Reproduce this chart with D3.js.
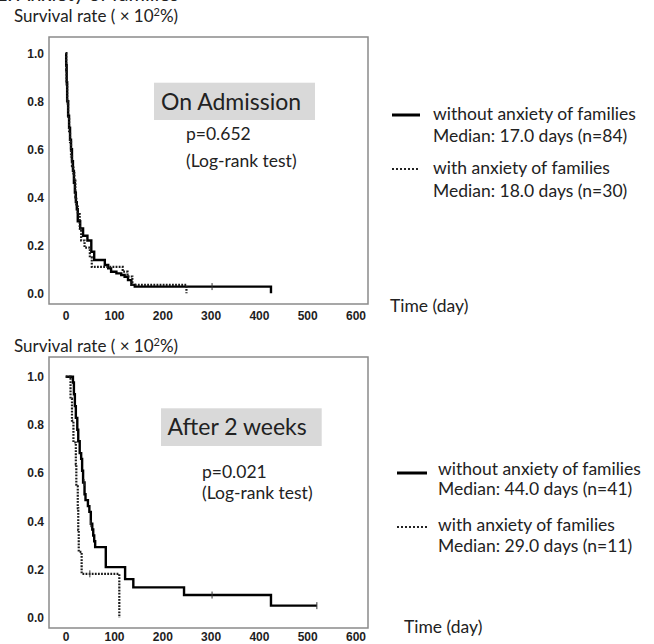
<!DOCTYPE html>
<html><head><meta charset="utf-8">
<script src="https://cdn.jsdelivr.net/npm/d3@7"></script>
<style>
html,body{margin:0;padding:0;background:#fff;}
svg{display:block;}
.lab{font-family:Lato,"Open Sans",sans-serif;fill:#222;}
.tick text{font-family:"Liberation Sans",Arial,sans-serif;font-weight:bold;font-size:12px;fill:#1e1e1e;}
</style></head>
<body>
<svg id="c" width="654" height="644"></svg>
<script>
// ---- data ----
const xTicks = [0,100,200,300,400,500,600];
const yTicks = [0,0.2,0.4,0.6,0.8,1.0];

// On Admission
const admWithoutTime = [0,1,2,3,5,7,9,11,13,15,17,19,21,23,25,30,36,45,53,59,81,88,94,105,115,122,129,136,143,425];
const admWithoutSurv = [1,0.95,0.88,0.80,0.74,0.69,0.64,0.60,0.55,0.51,0.46,0.42,0.38,0.35,0.30,0.27,0.24,0.22,0.173,0.139,0.118,0.104,0.09,0.083,0.076,0.069,0.055,0.035,0.028,0];
const admWithTime = [0,1,2,3,5,7,9,11,13,16,18,20,22,25,29,32,39,50,54,118,128,138,250];
const admWithSurv = [1,0.93,0.87,0.80,0.73,0.67,0.63,0.57,0.53,0.50,0.47,0.40,0.37,0.33,0.27,0.22,0.19,0.15,0.11,0.09,0.07,0.035,0];
const admWithoutCensor = [3,303];
const admWithCensor = [];

// After 2 weeks
const wkWithoutTime = [0,15,17,19,21,24,26,29,32,34,36,39,41,46,49,52,55,57,59,61,83,123,140,245,425,520];
const wkWithoutSurv = [1,0.976,0.927,0.878,0.829,0.78,0.732,0.683,0.659,0.61,0.561,0.512,0.488,0.463,0.439,0.39,0.366,0.341,0.317,0.293,0.21,0.16,0.126,0.094,0.05,0.05];
const wkWithTime = [0,10,13,16,21,22,25,26,27,33,111];
const wkWithSurv = [1,0.909,0.818,0.727,0.636,0.545,0.455,0.364,0.273,0.182,0];
const wkWithoutCensor = [38,52,303,520];
const wkWithCensor = [50];

const panelTitles = ["On Admission","After 2 weeks"];
const pValues = ["p=0.652","p=0.021"];
const legendWithout = ["Median: 17.0 days (n=84)","Median: 44.0 days (n=41)"];
const legendWith = ["Median: 18.0 days (n=30)","Median: 29.0 days (n=11)"];

// ---- drawing ----
const svg = d3.select("#c");
svg.append("rect").attr("width",654).attr("height",644).attr("fill","#fff");

// heading cut off by the top edge in the reference
svg.append("text").attr("class","lab").attr("x",-4).attr("y",0.5)
  .attr("font-size",20).text("2. Anxiety of families");

const panels = [
  {top:37, bottom:304, y1:53.3, y0:293.3, yLab:22, xLab:311, box:[154,82.7,315,120], tx:[161,110], p:[186,139.5,166.5],
   leg:{solidY:115,t1:120,t2:141.5,dotY:169,t3:174,t4:196.5,lx1:392,lx2:420,tx:433}, time:[390,312],
   series:[[admWithoutTime,admWithoutSurv,admWithoutCensor,false],[admWithTime,admWithSurv,admWithCensor,true]]},
  {top:357, bottom:628, y1:376.7, y0:617.7, yLab:352, xLab:632, box:[161,408.3,321.7,446], tx:[167.5,435], p:[202,478,498.5],
   leg:{solidY:473,t1:474.5,t2:495,dotY:527,t3:531,t4:551.5,lx1:397,lx2:427,tx:438}, time:[404,633],
   series:[[wkWithoutTime,wkWithoutSurv,wkWithoutCensor,false],[wkWithTime,wkWithSurv,wkWithCensor,true]]}
];

panels.forEach((P,i)=>{
  const g = svg.append("g");
  const x = d3.scaleLinear().domain([0,600]).range([65.7,355.5]);
  const y = d3.scaleLinear().domain([0,1]).range([P.y0,P.y1]);

  // frame
  g.append("rect").attr("x",49).attr("y",P.top).attr("width",319).attr("height",P.bottom-P.top)
    .attr("fill","none").attr("stroke","#8a8a8a").attr("stroke-width",1.5);

  // axes
  g.append("g").attr("transform",`translate(0,${P.xLab})`)
    .call(d3.axisBottom(x).tickValues(xTicks).tickSize(0).tickPadding(0).tickFormat(d3.format("d")))
    .call(a=>a.select(".domain").remove());
  g.append("g").attr("transform",`translate(44,0)`)
    .call(d3.axisLeft(y).tickValues(yTicks).tickSize(0).tickPadding(0).tickFormat(d3.format(".1f")))
    .call(a=>a.select(".domain").remove());

  // y label
  const yl = g.append("text").attr("class","lab").attr("x",14).attr("y",P.yLab).attr("font-size",17);
  yl.append("tspan").text("Survival rate ( \u00d7 10");
  yl.append("tspan").attr("dy",-6).attr("font-size",11).text("2");
  yl.append("tspan").attr("dy",6).text("%)");

  // curves
  const line = d3.line().x(d=>x(d[0])).y(d=>y(d[1])).curve(d3.curveStepAfter);
  P.series.forEach(([T,S,C,dotted])=>{
    const pts = T.map((t,k)=>[t,S[k]]);
    g.append("path").datum(pts).attr("d",line).attr("fill","none")
      .attr("stroke",dotted?"#1a1a1a":"#000").attr("stroke-width",dotted?2.2:2.4)
      .attr("stroke-dasharray",dotted?"1.8,1.3":null);
    const sAt = t=>{let v=S[0];T.forEach((tt,k)=>{if(tt<=t)v=S[k];});return v;};
    g.selectAll(null).data(C).enter().append("line")
      .attr("x1",d=>x(d)).attr("x2",d=>x(d))
      .attr("y1",d=>y(sAt(d))-3.5).attr("y2",d=>y(sAt(d))+3.5)
      .attr("stroke","#333").attr("stroke-width",1);
  });

  // title box
  const [bx,by,bx2,by2] = P.box;
  g.append("rect").attr("x",bx).attr("y",by).attr("width",bx2-bx).attr("height",by2-by).attr("fill","#d9d9d9");
  g.append("text").attr("class","lab").attr("x",P.tx[0]).attr("y",P.tx[1]).attr("font-size",23).text(panelTitles[i]);
  g.append("text").attr("class","lab").attr("x",P.p[0]).attr("y",P.p[1]).attr("font-size",17.5).text(pValues[i]);
  g.append("text").attr("class","lab").attr("x",P.p[0]).attr("y",P.p[2]).attr("font-size",17.5).text("(Log-rank test)");

  // legend
  const L = P.leg;
  g.append("line").attr("x1",L.lx1).attr("x2",L.lx2).attr("y1",L.solidY).attr("y2",L.solidY)
    .attr("stroke","#000").attr("stroke-width",3);
  g.append("line").attr("x1",L.lx1).attr("x2",L.lx2).attr("y1",L.dotY).attr("y2",L.dotY)
    .attr("stroke","#222").attr("stroke-width",2).attr("stroke-dasharray","2,2");
  const lt = [[L.t1,"without anxiety of families"],[L.t2,legendWithout[i]],[L.t3,"with anxiety of families"],[L.t4,legendWith[i]]];
  lt.forEach(([yy,s])=>g.append("text").attr("class","lab").attr("x",L.tx).attr("y",yy).attr("font-size",17.5).text(s));

  g.append("text").attr("class","lab").attr("x",P.time[0]).attr("y",P.time[1]).attr("font-size",17.5).text("Time (day)");
});
</script>
</body></html>
